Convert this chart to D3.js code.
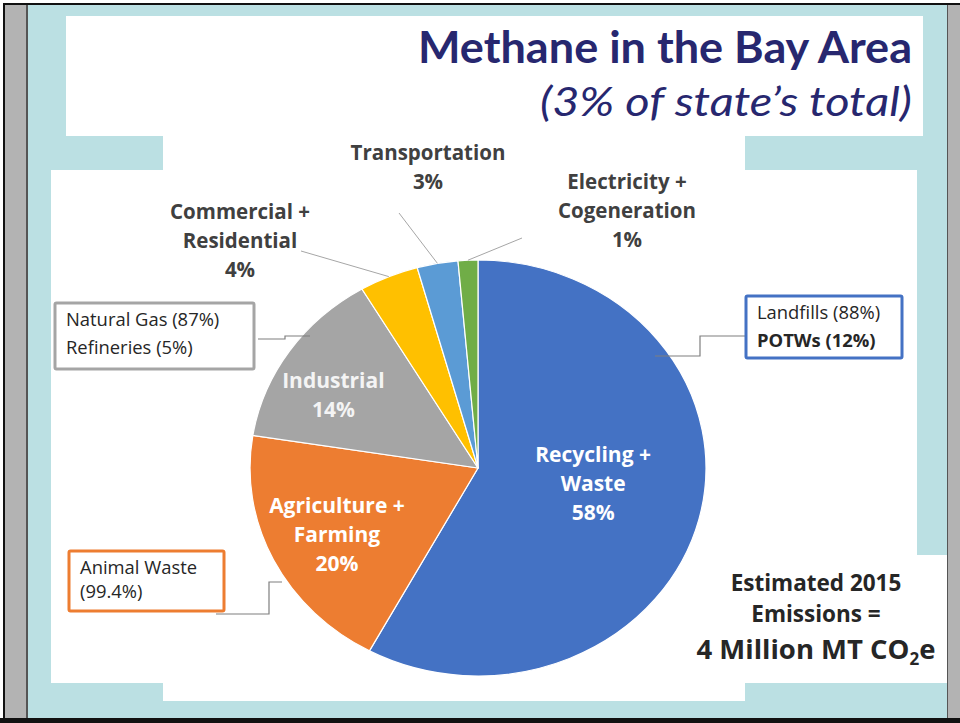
<!DOCTYPE html>
<html>
<head>
<meta charset="utf-8">
<title>Methane in the Bay Area</title>
<script src="https://cdnjs.cloudflare.com/ajax/libs/d3/7.8.5/d3.min.js"></script>
<style>
  body { margin: 0; background: #fff; }
  svg { display: block; }
  text { font-family: "Open Sans", sans-serif; }
</style>
</head>
<body>
<div id="chart"></div>
<script>
// sectors, clockwise from 12 o'clock
var sectors = ["Recycling + Waste", "Agriculture + Farming", "Industrial",
               "Commercial + Residential", "Transportation", "Electricity + Cogeneration"];
var sectorLines = [["Recycling +", "Waste"], ["Agriculture +", "Farming"], ["Industrial"],
                   ["Commercial +", "Residential"], ["Transportation"], ["Electricity +", "Cogeneration"]];
var shares = [57.9, 19.6, 14.0, 4.2, 2.9, 1.4];
var colors = ["#4472c4", "#ed7d31", "#a5a5a5", "#ffc000", "#5b9bd5", "#70ad47"];
// sub-source breakdown callouts (by sector index)
var breakdown = [["Landfills (88%)", "POTWs (12%)"], ["Animal Waste", "(99.4%)"],
                 ["Natural Gas (87%)", "Refineries (5%)"], null, null, null];
var totalLines = ["Estimated 2015", "Emissions ="];

var W = 960, H = 723;
var cx = 478, cy = 468, R = 208, sx = 1.096;

var svg = d3.select("#chart").append("svg")
    .attr("width", W).attr("height", H);

//__slide background
svg.append("rect").attr("width", W).attr("height", H).attr("fill", "#fff");
svg.append("rect").attr("x", 3).attr("y", 3).attr("width", W - 3).attr("height", 715).attr("fill", "#111");
svg.append("rect").attr("x", 5).attr("y", 5).attr("width", 21).attr("height", 713).attr("fill", "#b3b3b3");
svg.append("rect").attr("x", 26).attr("y", 5).attr("width", 2).attr("height", 713).attr("fill", "#555");
svg.append("rect").attr("x", 28).attr("y", 5).attr("width", 919).attr("height", 713).attr("fill", "#bbe0e3");
svg.append("rect").attr("x", 947).attr("y", 5).attr("width", 1).attr("height", 713).attr("fill", "#555");
svg.append("rect").attr("x", 948).attr("y", 5).attr("width", 12).attr("height", 713).attr("fill", "#b3b3b3");
svg.append("rect").attr("x", 0).attr("y", 718).attr("width", W).attr("height", 5).attr("fill", "#111");

var panels = [[66, 16, 857, 120], [163, 136, 582, 565], [51, 170, 866, 513], [680, 555, 267, 128]];
svg.selectAll("rect.panel").data(panels).enter().append("rect")
    .attr("class", "panel")
    .attr("x", function(d) { return d[0]; })
    .attr("y", function(d) { return d[1]; })
    .attr("width", function(d) { return d[2]; })
    .attr("height", function(d) { return d[3]; })
    .attr("fill", "#fff");

//__title
svg.append("text")
    .attr("x", 912).attr("y", 63)
    .attr("text-anchor", "end")
    .attr("textLength", 494).attr("lengthAdjust", "spacingAndGlyphs")
    .style("font-family", "Lato, sans-serif")
    .style("font-weight", "bold").style("font-size", "43px")
    .attr("fill", "#27276f")
    .text("Methane in the Bay Area");

svg.append("text")
    .attr("x", 912).attr("y", 116)
    .attr("text-anchor", "end")
    .attr("textLength", 372).attr("lengthAdjust", "spacingAndGlyphs")
    .style("font-family", "Lato, sans-serif")
    .style("font-style", "italic").style("font-size", "40px")
    .attr("fill", "#27276f")
    .text("(3% of state\u2019s total)");

//__pie
var pie = d3.pie().sort(null).value(function(d) { return d; });
var pieData = pie(shares);

var arc = d3.arc().innerRadius(0).outerRadius(R);

var g = svg.append("g")
    .attr("transform", "translate(" + cx + "," + cy + ") scale(" + sx + ",1)");

g.selectAll("path.slice").data(pieData).enter().append("path")
    .attr("class", "slice")
    .attr("d", arc)
    .attr("fill", function(d, i) { return colors[i]; })
    .attr("stroke", "#fff")
    .attr("stroke-width", 1.2)
    .attr("vector-effect", "non-scaling-stroke");

function pct(v) { return Math.round(v) + "%"; }

// labels inside the three big slices
var innerR = [0.53, 0.69, 0.73];
var innerNudge = [[-2, -10], [0, 4], [-7, 14]];
var innerFill = ["#fff", "#fff", "#f4f4f4"];
var lh = 29;
pieData.slice(0, 3).forEach(function(d, i) {
    var r = R * innerR[i];
    var c = d3.arc().innerRadius(r).outerRadius(r).centroid(d);
    var lines = sectorLines[i].concat([pct(shares[i])]);
    var x = cx + c[0] * sx + innerNudge[i][0];
    var y = cy + c[1] - (lines.length - 1) * lh / 2 + 6 + innerNudge[i][1];
    var t = svg.append("text")
        .attr("text-anchor", "middle")
        .attr("fill", innerFill[i])
        .style("font-weight", "bold").style("font-size", "21px");
    lines.forEach(function(s, j) {
        t.append("tspan").attr("x", x).attr("y", y + j * lh).text(s);
    });
});

// outside labels for the small slices, with leader lines
var outsideLab = { 3: [240, 219], 4: [428, 160], 5: [627, 189] };
var leaderFrom = { 3: [301, 251], 4: [399, 213], 5: [522, 238] };
var edge = d3.arc().innerRadius(R).outerRadius(R);
pieData.slice(3).forEach(function(d, k) {
    var i = k + 3;
    var c = edge.centroid(d);
    svg.append("line")
        .attr("x1", leaderFrom[i][0]).attr("y1", leaderFrom[i][1])
        .attr("x2", cx + c[0] * sx).attr("y2", cy + c[1])
        .attr("stroke", "#a6a6a6").attr("stroke-width", 1);
    var lines = sectorLines[i].concat([pct(shares[i])]);
    var t = svg.append("text")
        .attr("text-anchor", "middle")
        .attr("fill", "#404040")
        .style("font-weight", "bold").style("font-size", "20.5px");
    lines.forEach(function(s, j) {
        t.append("tspan").attr("x", outsideLab[i][0]).attr("y", outsideLab[i][1] + j * 29).text(s);
    });
});

//__callouts
var boxes = { 0: [746, 296, 156, 62], 1: [69, 551, 155, 60], 2: [55, 303, 199, 66] };
var boxLead = { 0: 28, 1: 24, 2: 28 };
var connectors = {
    0: [[745, 336], [700, 336], [700, 356], [655, 356]],
    1: [[216, 614], [269, 614], [269, 582], [282, 582]],
    2: [[258, 339], [285, 339], [285, 336], [310, 336]]
};
var line = d3.line();
breakdown.forEach(function(b, i) {
    if (!b) return;
    var bx = boxes[i];
    svg.append("path")
        .attr("d", line(connectors[i]))
        .attr("fill", "none").attr("stroke", "#7f7f7f").attr("stroke-width", 1.2);
    svg.append("rect")
        .attr("x", bx[0]).attr("y", bx[1]).attr("width", bx[2]).attr("height", bx[3])
        .attr("rx", 1.5)
        .attr("fill", "#fff").attr("stroke", colors[i]).attr("stroke-width", 3);
    b.forEach(function(s, j) {
        svg.append("text")
            .attr("x", bx[0] + 11).attr("y", bx[1] + 23 + j * boxLead[i])
            .attr("fill", "#262626")
            .style("font-size", "18.4px")
            .style("font-weight", (i === 0 && j === 1) ? "bold" : "normal")
            .text(s);
    });
});

//__total
totalLines.forEach(function(s, j) {
    svg.append("text")
        .attr("x", 816).attr("y", 591 + j * 31)
        .attr("text-anchor", "middle")
        .attr("fill", "#262626")
        .style("font-weight", "bold").style("font-size", "22.5px")
        .text(s);
});
var big = svg.append("text")
    .attr("x", 816).attr("y", 659)
    .attr("text-anchor", "middle")
    .attr("fill", "#262626")
    .style("font-weight", "bold").style("font-size", "27.5px");
big.append("tspan").text("4 Million MT CO");
big.append("tspan").attr("dy", 6).style("font-size", "17px").text("2");
big.append("tspan").attr("dy", -6).text("e");
</script>
</body>
</html>
